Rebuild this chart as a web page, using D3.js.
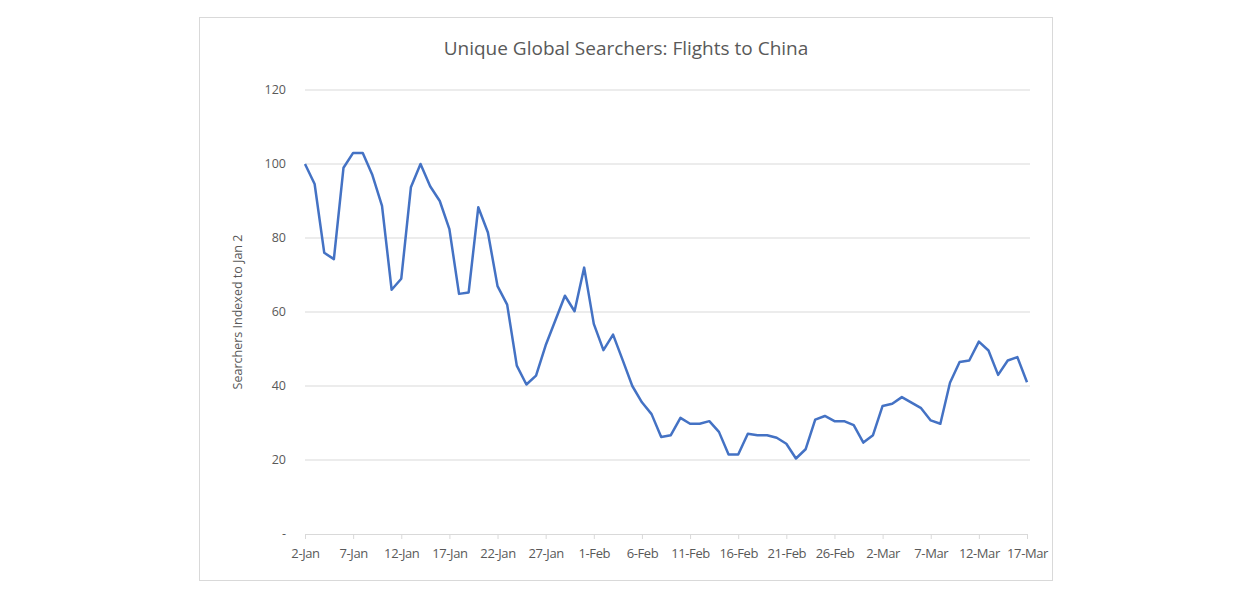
<!DOCTYPE html>
<html><head><meta charset="utf-8">
<script src="https://cdn.jsdelivr.net/npm/d3@7"></script>
<style>body{margin:0;background:#fff}svg text{font-family:"Open Sans",sans-serif;fill:#595959}</style>
</head><body>
<svg id="chart" width="1244" height="595"></svg>
<script>
// Searchers indexed to Jan 2, one value per day from 2-Jan to 17-Mar
const values = [100,94.6,76,74.3,99,103,103,97,88.7,66,69,93.7,100,94,90,82.4,64.9,65.3,88.3,81.5,
  67,62,45.5,40.4,42.8,51,57.7,64.4,60.2,72,56.8,49.7,53.9,47,40,35.6,32.4,26.2,26.7,31.4,
  29.8,29.8,30.5,27.6,21.5,21.5,27.1,26.7,26.7,26,24.4,20.4,22.9,30.9,31.9,30.5,30.5,29.4,24.7,26.7,
  34.6,35.2,37,35.5,34,30.7,29.8,40.9,46.5,46.9,52,49.6,43,46.9,47.8,41];
const yTicks = [0,20,40,60,80,100,120];
const startDate = new Date(2020,0,2);
const dates = values.map((v,i) => d3.timeDay.offset(startDate,i));
const fmt = d3.timeFormat("%-d-%b");

const svg = d3.select("#chart");
svg.append("rect").attr("x",199.5).attr("y",17.5).attr("width",853).attr("height",563)
  .attr("fill","#fff").attr("stroke","#d9d9d9");

const x = d3.scaleTime().domain([dates[0],dates[dates.length-1]]).range([305,1027]);
const y = d3.scaleLinear().domain([0,120]).range([534,90]);

// gridlines
svg.append("g").selectAll("line").data(yTicks.filter(t => t>0)).enter().append("line")
  .attr("x1",305).attr("x2",1030).attr("y1",d=>y(d)).attr("y2",d=>y(d))
  .attr("stroke","#d9d9d9").attr("stroke-width",1);

// y axis labels
svg.append("g").selectAll("text").data(yTicks).enter().append("text")
  .attr("x",286).attr("y",d=>y(d)+4).attr("text-anchor","end").attr("font-size",12.5)
  .text(d => d===0 ? "-" : d);

// x axis
const xTickDates = dates.filter((d,i) => i%5===0);
const xAxis = svg.append("g").attr("transform","translate(0,534)")
  .call(d3.axisBottom(x).tickValues(xTickDates).tickFormat(fmt).tickSize(5).tickSizeOuter(0));
xAxis.select(".domain").attr("stroke","#d9d9d9");
xAxis.selectAll(".tick line").attr("stroke","#d9d9d9");
xAxis.selectAll(".tick text").attr("font-size",13).attr("dy","1.25em").attr("fill","#595959")
  .attr("font-family","'Open Sans',sans-serif").style("letter-spacing","-0.4px");

// line
svg.append("path").datum(values)
  .attr("d", d3.line().x((d,i)=>x(dates[i])).y(d=>y(d)))
  .attr("fill","none").attr("stroke","#4472c4").attr("stroke-width",2.5).attr("stroke-linejoin","round");

svg.append("text").attr("x",626).attr("y",55).attr("text-anchor","middle").attr("font-size",19)
  .text("Unique Global Searchers: Flights to China");
svg.append("text").attr("transform","translate(242,312) rotate(-90)").attr("text-anchor","middle")
  .attr("font-size",12.5).text("Searchers Indexed to Jan 2");
</script>
</body></html>
